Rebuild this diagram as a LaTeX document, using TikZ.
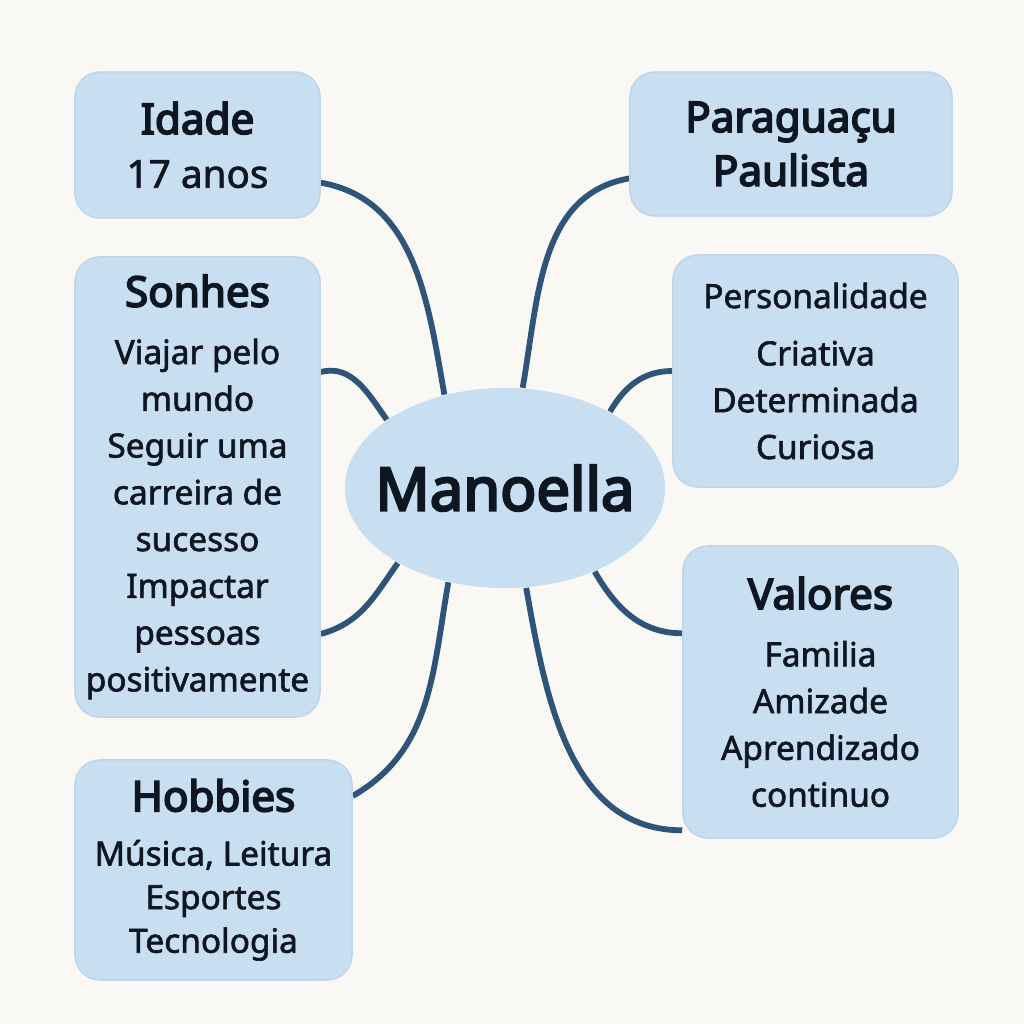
\documentclass[tikz,border=0pt]{standalone}
\usepackage{fontspec}
\setmainfont{Noto Sans}[FakeBold=1.8]
\newfontfamily\headfont{Noto Sans}[FakeBold=4]
\usetikzlibrary{shapes.geometric}

\definecolor{boxblue}{HTML}{C8DEF1}
\definecolor{boxline}{HTML}{BCD5EC}
\definecolor{linkblue}{HTML}{2E5579}
\definecolor{paper}{HTML}{FAF8F4}
\definecolor{ink}{HTML}{0E1622}

\pgfdeclarelayer{paperlayer}
\pgfdeclarelayer{linklayer}
\pgfsetlayers{paperlayer,linklayer,main}

\tikzset{
  topic/.style={rectangle, rounded corners=0.25cm, fill=boxblue, draw=boxline,
    line width=0.4pt, text=ink, align=center, inner sep=0pt,
    font=\fontsize{9.5}{13.3}\selectfont},
  link/.style={draw=linkblue, line width=1.65pt}
}
\newcommand{\head}[1]{{\headfont\fontsize{12}{14}\selectfont #1}}

\begin{document}
\begin{tikzpicture}[x=0.01cm,y=-0.01cm]
  \begin{pgfonlayer}{paperlayer}
    \fill[paper] (0,0) rectangle (1024,1024);
  \end{pgfonlayer}
  \useasboundingbox (0,0) rectangle (1024,1024);

  % Nodes
  \node[ellipse, fill=boxblue, minimum width=3.2cm, minimum height=2cm, text=ink,
    font=\headfont\fontsize{17}{20}\selectfont] (manoella) at (505,488) {\makebox[0pt]{Manoella}};

  \node[topic, minimum width=2.45cm, minimum height=1.46cm] (idade) at (197.5,145)
    {\head{Idade}\\[2pt]{\fontsize{11}{13}\selectfont 17 anos}};
  \node[topic, minimum width=2.45cm, minimum height=4.6cm] (sonhes) at (197.5,487)
    {\head{Sonhes}\\[3pt]Viajar pelo\\mundo\\Seguir uma\\carreira de\\sucesso\\Impactar\\pessoas\\positivamente};
  \node[topic, minimum width=2.77cm, minimum height=2.2cm,
    font=\fontsize{9.5}{12.4}\selectfont] (hobbies) at (213.5,870)
    {\head{Hobbies}\\[3pt]Música, Leitura\\Esportes\\Tecnologia};

  \node[topic, minimum width=3.22cm, minimum height=1.44cm] (paraguacu) at (791,144)
    {\head{Paraguaçu}\\[2pt]\head{Paulista}};
  \node[topic, minimum width=2.85cm, minimum height=2.32cm] (personalidade) at (815.5,371)
    {Personalidade\\[3pt]Criativa\\Determinada\\Curiosa};
  \node[topic, minimum width=2.75cm, minimum height=2.92cm] (valores) at (820.5,692)
    {\head{Valores}\\[3pt]Familia\\Amizade\\Aprendizado\\continuo};

  % Links
  \begin{pgfonlayer}{linklayer}
    \draw[link] (idade.-17) to[out=-10,in=100] (manoella.123);
    \draw[link] (sonhes.43) to[out=15,in=125] (manoella.150);
    \draw[link] (sonhes.-50) to[out=15,in=235] (manoella.215);
    \draw[link] (hobbies.28) to[out=30,in=-100] (manoella.239);
    \draw[link] (paraguacu.192) to[out=190,in=80] (manoella.80);
    \draw[link] (personalidade.180) to[out=180,in=60] (manoella.36);
    \draw[link] (valores.157) to[out=180,in=-60] (manoella.-43);
    \draw[link] (valores.225) to[out=180,in=-80] (manoella.-78);
  \end{pgfonlayer}
\end{tikzpicture}
\end{document}
